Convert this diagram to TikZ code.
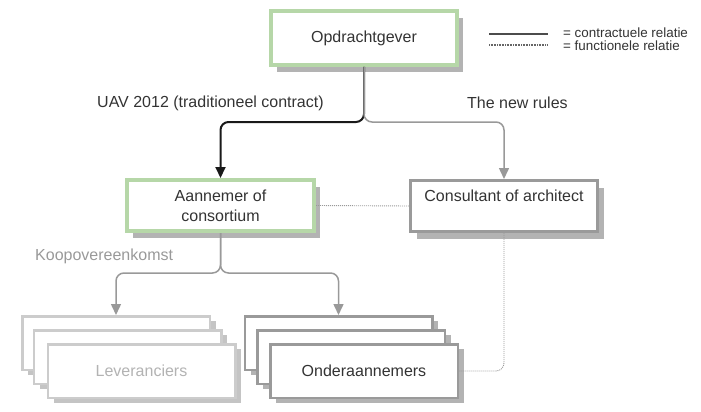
\documentclass[tikz,border=0pt]{standalone}
\usepackage{fontspec}
\setmainfont{Liberation Sans}
\usetikzlibrary{arrows.meta,shadows}
\definecolor{boxgreen}{HTML}{B6D7A8}
\definecolor{textgray}{HTML}{333333}
\definecolor{lighttext}{HTML}{B3B3B3}
\definecolor{labelgray}{HTML}{999999}
\definecolor{linegray}{HTML}{999999}
\definecolor{bordergray}{HTML}{9A9A9A}
\definecolor{lightborder}{HTML}{CCCCCC}
\definecolor{shadowgray}{HTML}{B3B3B3}
\definecolor{lightshadow}{HTML}{C4C4C4}
\begin{document}
\begin{tikzpicture}[x=1pt,y=-1pt,
  txt/.style={font=\fontsize{16}{20}\selectfont, text=textgray},
  smalltxt/.style={font=\fontsize{13.4}{15}\selectfont, text=textgray, inner sep=0pt, anchor=west},
  basebox/.style={rectangle, fill=white, inner sep=0pt, align=center, txt},
  greenbox/.style={basebox, draw=boxgreen, line width=4pt,
    drop shadow={shadow xshift=6pt, shadow yshift=-7pt, fill=shadowgray, opacity=1}},
  graybox/.style={basebox, draw=bordergray, line width=3pt,
    minimum width=187pt, minimum height=51pt,
    drop shadow={shadow xshift=6pt, shadow yshift=-7pt, fill=shadowgray, opacity=1}},
  ondbox/.style={basebox, draw=bordergray, line width=2.5pt,
    minimum width=187.5pt, minimum height=53.5pt,
    drop shadow={shadow xshift=6pt, shadow yshift=-5pt, fill=shadowgray, opacity=1}},
  levbox/.style={basebox, draw=lightborder, line width=2.5pt, text=lighttext,
    minimum width=187.5pt, minimum height=53.5pt,
    drop shadow={shadow xshift=6pt, shadow yshift=-5pt, fill=lightshadow, opacity=1}},
  conn/.style={draw=linegray, line width=1.5pt, rounded corners=8pt,
    -{Triangle[length=11pt,width=10pt]}},
  contract/.style={draw=black!90, line width=2pt, rounded corners=8pt,
    -{Triangle[length=11pt,width=10pt]}},
  func/.style={draw=linegray, line width=0.9pt, dash pattern=on 1pt off 1pt, rounded corners=8pt},
]
\useasboundingbox (0,0) rectangle (701,412);

% main parties
\node[greenbox, minimum width=186pt, minimum height=54pt] (opd) at (364,38) {Opdrachtgever};
\node[greenbox, minimum width=187pt, minimum height=51pt] (aan) at (220.5,205.5) {Aannemer of\\consortium};
\node[graybox] (cons) at (504,206) {Consultant of architect\\\mbox{}};

% supplier stack
\node[levbox] (levA) at (116,343) {};
\node[levbox] (levB) at (127.5,357) {};
\node[levbox] (levC) at (141.5,371) {Leveranciers};

% subcontractor stack
\node[ondbox] (ondA) at (338.5,343) {};
\node[ondbox] (ondB) at (351,357) {};
\node[ondbox] (ondC) at (364,371) {Onderaannemers};

% branch points
\coordinate (jtop) at (364,122);
\coordinate (jbot) at (220.5,273);

% contractual relations
\draw[contract] (opd.south) -- (jtop) -| (aan.north);
\draw[conn] (opd.south) -- (jtop) -| (cons.north);
\draw[conn] (aan.south) -- (jbot) -| (levA.north);
\draw[conn] (aan.south) -- (jbot) -| (ondA.north);

% functional relations
\draw[func] (aan.east) -- (cons.west);
\draw[func] (cons.south) |- (ondC.east);

% labels
\node[txt, anchor=west, inner sep=0pt] (uav) at (97,103) {UAV 2012 (traditioneel contract)};
\node[txt, anchor=west, inner sep=0pt] (newrules) at (467,103) {The new rules};
\node[txt, anchor=west, inner sep=0pt, text=labelgray] (koop) at (35,256) {Koopovereenkomst};

% legend
\coordinate (lgA1) at (489,34);
\coordinate (lgA2) at (548,34);
\coordinate (lgB1) at (489,45);
\coordinate (lgB2) at (548,45);
\draw[draw=black!70, line width=1.6pt] (lgA1) -- (lgA2);
\draw[draw=black!60, line width=1.2pt, dash pattern=on 0.8pt off 0.8pt] (lgB1) -- (lgB2);
\node[smalltxt] (lgtA) at (563,33) {= contractuele relatie};
\node[smalltxt] (lgtB) at (563,45.5) {= functionele relatie};
\end{tikzpicture}
\end{document}
